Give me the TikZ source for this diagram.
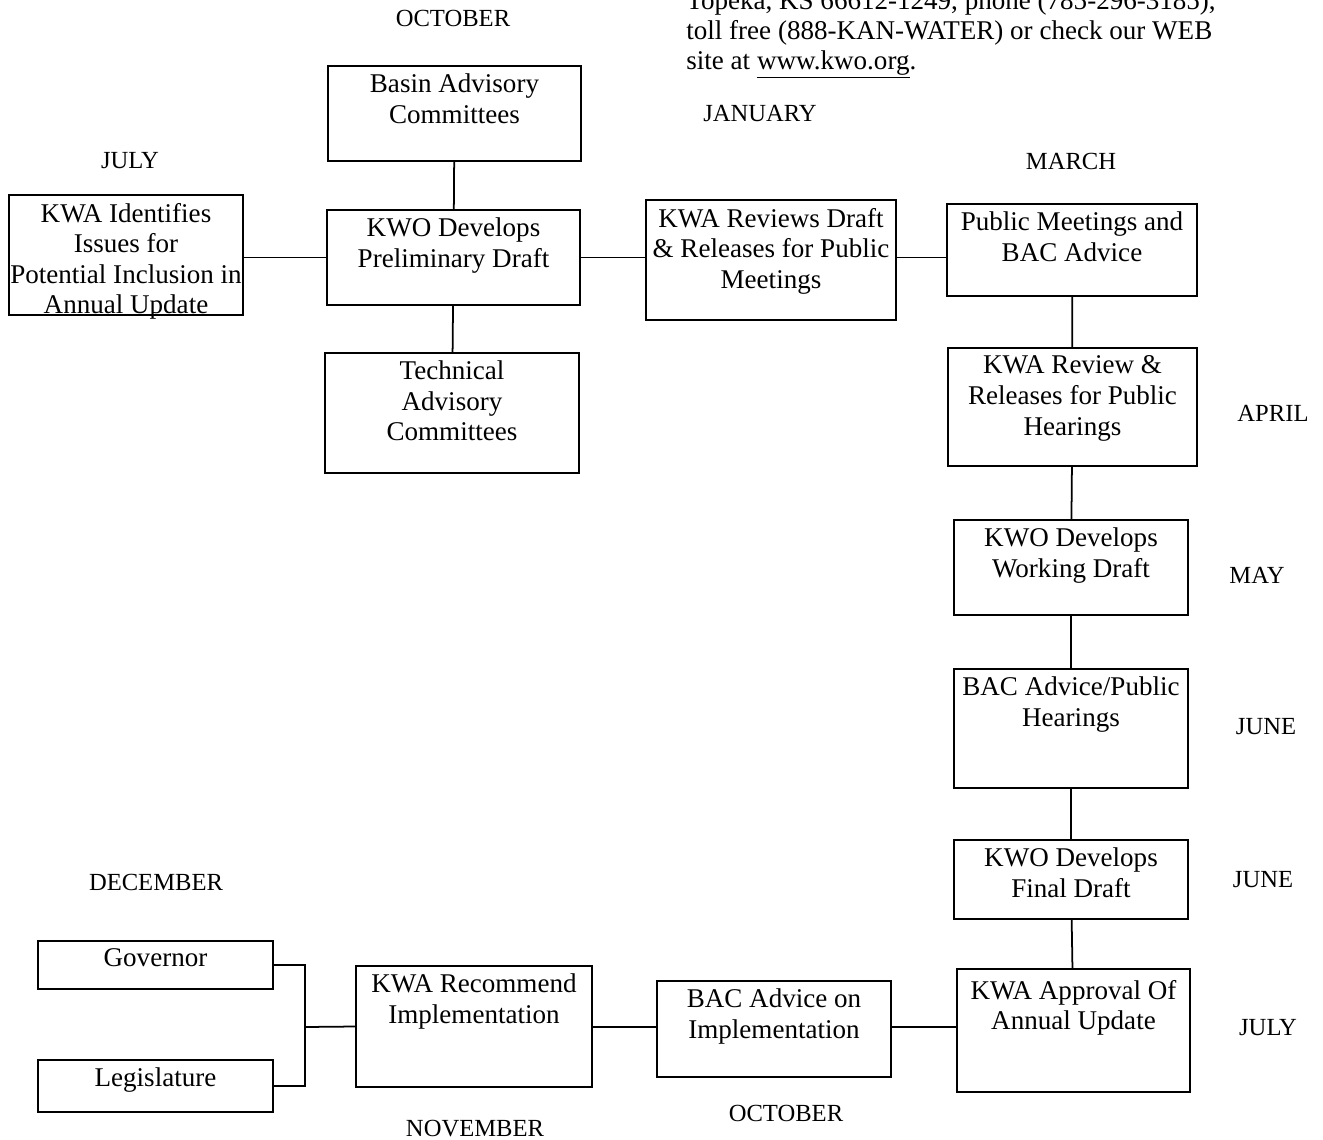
\documentclass[tikz,border=0pt]{standalone}
\usepackage{fontspec}
\setmainfont{Liberation Serif}
\usepackage{tikz}
\usetikzlibrary{positioning}

\begin{document}
\begin{tikzpicture}[x=0.02cm, y=-0.02cm,
  every node/.style={font=\fontsize{14}{17.4}\selectfont},
  stagebox/.style={draw, rectangle, line width=1pt, inner sep=0pt},
  stagetext/.style={anchor=north, align=center, inner sep=0pt, yshift=-0.17cm, font=\fontsize{15.4}{17.4}\selectfont},
  month/.style={inner sep=0pt},
  link/.style={line width=1pt}]
\path[use as bounding box, fill=white] (0,0) rectangle (1323,1140);

% Contact text (cut off at the top)
\node[anchor=north west, align=left, inner sep=0pt, font=\fontsize{15.4}{17.1}\selectfont] (contact) at (686,-10) {Topeka, KS 66612-1249, phone (785-296-3185),\\toll free (888-KAN-WATER) or check our WEB\\site at \underline{www.kwo.org}.};

% Months
\node[month] (m-oct1) at (453,18) {OCTOBER};
\node[month] (m-jan) at (760,113) {JANUARY};
\node[month] (m-jul1) at (130,161) {JULY};
\node[month] (m-mar) at (1071,161) {MARCH};
\node[month] (m-apr) at (1273,413) {APRIL};
\node[month] (m-may) at (1257,575) {MAY};
\node[month] (m-jun1) at (1266,727) {JUNE};
\node[month] (m-jun2) at (1263,880) {JUNE};
\node[month] (m-jul2) at (1268,1028) {JULY};
\node[month] (m-dec) at (156,882) {DECEMBER};
\node[month] (m-nov) at (475,1129) {NOVEMBER};
\node[month] (m-oct2) at (786,1113) {OCTOBER};

% Basin Advisory Committees
\node[stagebox, minimum width=5.06cm, minimum height=1.90cm] (basin) at (454.5,113.5) {};
\node[stagetext] (basin-t) at (basin.north) {Basin Advisory\\Committees};

% KWA Identifies Issues
\node[stagebox, minimum width=4.68cm, minimum height=2.40cm] (issues) at (126,255) {};
\node[stagetext] (issues-t) at (issues.north) {KWA Identifies\\Issues for\\Potential Inclusion in\\Annual Update};

% KWO Preliminary Draft
\node[stagebox, minimum width=5.06cm, minimum height=1.90cm] (prelim) at (453.5,257.5) {};
\node[stagetext] (prelim-t) at (prelim.north) {KWO Develops\\Preliminary Draft};

% Technical Advisory Committees
\node[stagebox, minimum width=5.08cm, minimum height=2.40cm] (tech) at (452,413) {};
\node[stagetext] (tech-t) at (tech.north) {Technical\\Advisory\\Committees};

% KWA Reviews Draft
\node[stagebox, minimum width=5.00cm, minimum height=2.40cm] (reviews) at (771,260) {};
\node[stagetext] (reviews-t) at (reviews.north) {KWA Reviews Draft\\\& Releases for Public\\Meetings};

% Public Meetings
\node[stagebox, minimum width=5.00cm, minimum height=1.84cm] (public) at (1072,250) {};
\node[stagetext] (public-t) at (public.north) {Public Meetings and\\BAC Advice};

% KWA Review for Hearings
\node[stagebox, minimum width=4.98cm, minimum height=2.36cm] (hearrev) at (1072.5,407) {};
\node[stagetext] (hearrev-t) at (hearrev.north) {KWA Review \&\\Releases for Public\\Hearings};

% KWO Working Draft
\node[stagebox, minimum width=4.68cm, minimum height=1.90cm] (working) at (1071,567.5) {};
\node[stagetext] (working-t) at (working.north) {KWO Develops\\Working Draft};

% BAC Advice / Hearings
\node[stagebox, minimum width=4.68cm, minimum height=2.38cm] (bachear) at (1071,728.5) {};
\node[stagetext] (bachear-t) at (bachear.north) {BAC Advice/Public\\Hearings};

% KWO Final Draft
\node[stagebox, minimum width=4.68cm, minimum height=1.58cm] (final) at (1071,879.5) {};
\node[stagetext] (final-t) at (final.north) {KWO Develops\\Final Draft};

% KWA Approval
\node[stagebox, minimum width=4.66cm, minimum height=2.46cm] (approval) at (1073.5,1030.5) {};
\node[stagetext, yshift=-0.06cm] (approval-t) at (approval.north) {KWA Approval Of\\Annual Update};

% BAC Advice on Implementation
\node[stagebox, minimum width=4.68cm, minimum height=1.92cm] (bacimpl) at (774,1029) {};
\node[stagetext] (bacimpl-t) at (bacimpl.north) {BAC Advice on\\Implementation};

% KWA Recommend
\node[stagebox, minimum width=4.72cm, minimum height=2.42cm] (recommend) at (474,1026.5) {};
\node[stagetext] (recommend-t) at (recommend.north) {KWA Recommend\\Implementation};

% Governor and Legislature
\node[stagebox, minimum width=4.70cm, minimum height=0.96cm] (governor) at (155.5,965) {};
\node[stagetext] (governor-t) at (governor.north) {Governor};
\node[stagebox, minimum width=4.70cm, minimum height=1.04cm] (legislature) at (155.5,1086) {};
\node[stagetext] (legislature-t) at (legislature.north) {Legislature};
\coordinate (junc) at (305,1027);

% Connectors
\draw[link] (basin) -- (prelim);
\draw[link] (prelim) -- (tech);
\draw[link] (issues.east |- prelim) -- (prelim.west);
\draw[link] (prelim.east) -- (reviews.west |- prelim);
\draw[link] (reviews.east |- prelim) -- (public.west |- prelim);
\draw[link] (public) -- (hearrev);
\draw[link] (hearrev) -- (working);
\draw[link] (working) -- (bachear);
\draw[link] (bachear) -- (final);
\draw[link] (final) -- (approval);
\draw[link] (approval.west |- junc) -- (bacimpl.east |- junc);
\draw[link] (bacimpl.west |- junc) -- (recommend.east |- junc);
\draw[link] (governor.east) -| (junc) |- (legislature.east);
\draw[link] (junc) -- (recommend.west);
\end{tikzpicture}
\end{document}
